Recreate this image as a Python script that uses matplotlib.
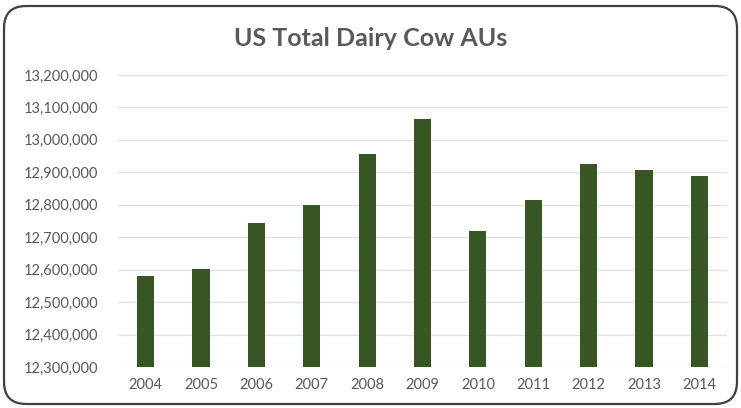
import matplotlib
matplotlib.use("Agg")
import matplotlib.pyplot as plt
from matplotlib.patches import FancyBboxPatch
from matplotlib.ticker import FuncFormatter

# values
years = ["2004", "2005", "2006", "2007", "2008", "2009", "2010", "2011", "2012", "2013", "2014"]
cow_aus = [12580000, 12601000, 12743000, 12798000, 12957000, 13064000,
           12718000, 12816000, 12927000, 12908000, 12889000]
y_ticks = [12300000 + i * 100000 for i in range(10)]

plt.rcParams['font.family'] = ['Lato', 'DejaVu Sans']

fig = plt.figure(figsize=(7.41, 4.08), dpi=100)
ax = fig.add_axes([118 / 741, 1 - 367 / 408, (727 - 118) / 741, (367 - 75) / 408])

# rounded frame around the whole chart
frame = FancyBboxPatch((4 / 741, 4 / 408), 733 / 741, 398 / 408,
                       boxstyle="round,pad=0,rounding_size=0.03",
                       transform=fig.transFigure, fill=False,
                       edgecolor="#404040", linewidth=1.6, mutation_aspect=741 / 408)
fig.patches.append(frame)

x = range(len(years))
ax.bar(x, [v - y_ticks[0] for v in cow_aus], bottom=y_ticks[0], width=0.31,
       color="#375623", zorder=3)

ax.set_xlim(-0.5, len(years) - 0.5)
ax.set_ylim(y_ticks[0], y_ticks[-1])
ax.set_yticks(y_ticks)
ax.yaxis.set_major_formatter(FuncFormatter(lambda v, p: f"{int(v):,}"))
ax.set_xticks(list(x))
ax.set_xticklabels(years)
ax.grid(axis="y", color="#e3e3e3", linewidth=1, zorder=0)
for s in ax.spines.values():
    s.set_visible(False)
ax.tick_params(length=0, labelsize=10.5, colors="#595959")
ax.tick_params(axis="x", pad=8)
ax.tick_params(axis="y", pad=14)

fig.text(0.5, 1 - 38 / 408, "US Total Dairy Cow AUs", ha="center", va="center",
         fontsize=18, fontweight="bold", color="#595959")

fig.savefig("out.png", dpi=100)
